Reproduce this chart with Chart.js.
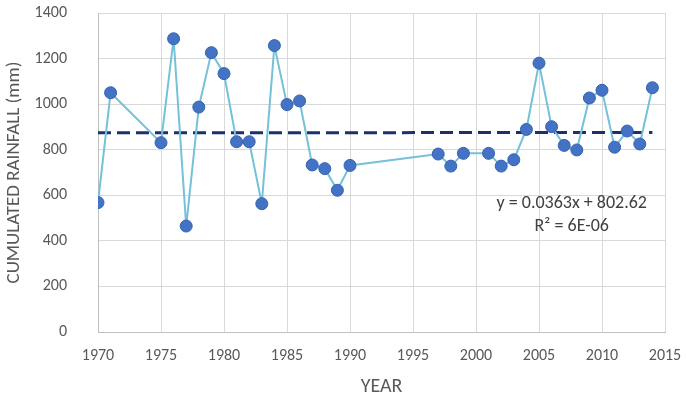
<!DOCTYPE html>
<html>
<head>
<meta charset="utf-8">
<script src="https://cdn.jsdelivr.net/npm/chart.js@4/dist/chart.umd.min.js"></script>
<style>
  html, body { margin: 0; padding: 0; background: #ffffff; }
  #wrap { width: 686px; height: 399px; position: relative; }
</style>
</head>
<body>
<div id="wrap"><canvas id="c" width="686" height="399"></canvas></div>
<script>
const years = [1970, 1971, 1975, 1976, 1977, 1978, 1979, 1980, 1981, 1982, 1983, 1984, 1985, 1986, 1987, 1988, 1989, 1990,
               1997, 1998, 1999, 2001, 2002, 2003, 2004, 2005, 2006, 2007, 2008, 2009, 2010, 2011, 2012, 2013, 2014];
const rainfall = [568, 1050, 831, 1287, 465, 987, 1226, 1134, 835, 835, 563, 1257, 998, 1014, 733, 717, 622, 731,
                  781, 728, 784, 784, 728, 756, 889, 1180, 901, 819, 799, 1027, 1061, 811, 882, 825, 1072];
const trendYears = [1970, 2014];
const trendValues = [874.1, 875.7];
const xTicks = [1970, 1975, 1980, 1985, 1990, 1995, 2000, 2005, 2010, 2015];
const yTicks = [0, 200, 400, 600, 800, 1000, 1200, 1400];
const trendLabel = ["y = 0.0363x + 802.62", "R² = 6E-06"];
const trendLabelPos = { x: 2007.6, y: [565, 464] };

const FONT = "Carlito, 'Open Sans', 'Liberation Sans', sans-serif";
const TEXT = '#595959';

const labelPlugin = {
  id: 'trendLabel',
  afterDatasetsDraw(chart) {
    const { ctx, scales } = chart;
    ctx.save();
    ctx.font = '18px ' + FONT;
    ctx.fillStyle = '#404040';
    ctx.textAlign = 'center';
    ctx.textBaseline = 'middle';
    const x = scales.x.getPixelForValue(trendLabelPos.x);
    trendLabel.forEach((t, i) => {
      ctx.fillText(t, x, scales.y.getPixelForValue(trendLabelPos.y[i]));
    });
    ctx.restore();
  }
};

new Chart(document.getElementById('c'), {
  type: 'scatter',
  data: {
    datasets: [
      {
        type: 'line',
        data: years.map((y, i) => ({ x: y, y: rainfall[i] })),
        borderColor: '#74C1D9',
        borderWidth: 2,
        pointBackgroundColor: '#4472C4',
        pointBorderColor: '#3563B0',
        pointBorderWidth: 1,
        pointRadius: 6,
        tension: 0,
        order: 1
      },
      {
        type: 'line',
        data: trendYears.map((y, i) => ({ x: y, y: trendValues[i] })),
        borderColor: '#1F2F6E',
        borderWidth: 3,
        borderDash: [13, 6],
        pointRadius: 0,
        tension: 0,
        order: 2
      }
    ]
  },
  options: {
    responsive: false,
    animation: false,
    devicePixelRatio: 1,
    layout: { padding: { top: 13, right: 21, left: 0, bottom: 0 } },
    plugins: { legend: { display: false }, tooltip: { enabled: false } },
    scales: {
      x: {
        type: 'linear',
        min: 1970, max: 2015,
        afterBuildTicks: s => { s.ticks = xTicks.map(v => ({ value: v })); },
        afterFit: s => { s.height = 67; s.paddingLeft = 0; s.paddingRight = 0; },
        grid: { color: '#d9d9d9', lineWidth: 1, drawTicks: false },
        border: { color: '#bfbfbf', width: 1 },
        ticks: { color: TEXT, font: { family: FONT, size: 16 }, padding: 14, callback: v => String(v), maxRotation: 0, autoSkip: false },
        title: { display: true, text: 'YEAR', color: TEXT, font: { family: FONT, size: 20 }, padding: { top: 4, bottom: 0 } }
      },
      y: {
        type: 'linear',
        min: 0, max: 1400,
        afterBuildTicks: s => { s.ticks = yTicks.map(v => ({ value: v })); },
        afterFit: s => { s.width = 98; s.paddingTop = 0; s.paddingBottom = 0; },
        grid: { color: '#d9d9d9', lineWidth: 1, drawTicks: false },
        border: { color: '#bfbfbf', width: 1 },
        ticks: { color: TEXT, font: { family: FONT, size: 16 }, padding: 31, callback: v => String(v), autoSkip: false },
        title: { display: true, text: 'CUMULATED RAINFALL (mm)', color: TEXT, font: { family: FONT, size: 19 }, padding: { top: 3, bottom: 0 } }
      }
    }
  },
  plugins: [labelPlugin]
});
</script>
</body>
</html>
